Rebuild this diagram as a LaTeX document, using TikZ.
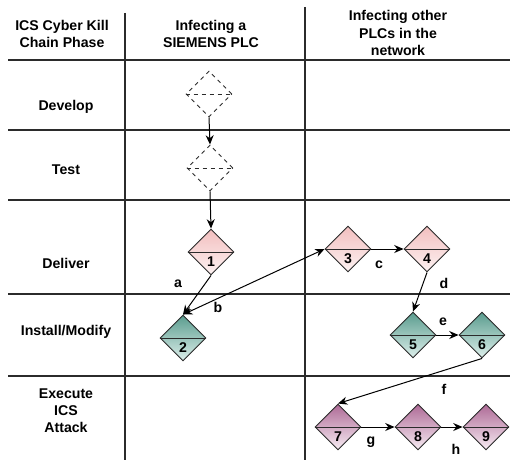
\documentclass[tikz,border=0pt]{standalone}
\usepackage{fontspec}
\setmainfont{Liberation Sans}
\usetikzlibrary{shapes.geometric,arrows.meta}

\definecolor{gridline}{HTML}{2B2B2B}
\definecolor{pinkTop}{HTML}{F2BFBF}
\definecolor{pinkBot}{HTML}{FDF2F2}
\definecolor{tealTop}{HTML}{5A9C8E}
\definecolor{tealBot}{HTML}{DDEFEB}
\definecolor{purpTop}{HTML}{AE6A96}
\definecolor{purpBot}{HTML}{F7ECF3}

\tikzset{
  txt/.style={font=\fontsize{10.6}{12.8}\selectfont\bfseries, align=center, inner sep=0pt},
  grid/.style={draw=gridline, line width=0.9pt},
  stage/.style={shape=diamond, aspect=1, inner sep=0pt, minimum size=34.5pt,
                draw=gridline, line width=0.7pt},
  planned/.style={stage, dashed},
  pinkstage/.style={stage, top color=pinkTop, bottom color=pinkBot},
  tealstage/.style={stage, top color=tealTop, bottom color=tealBot},
  purpstage/.style={stage, top color=purpTop, bottom color=purpBot},
  flow/.style={draw=black, line width=0.75pt, -{Stealth[length=7pt,width=6pt]}},
  lbl/.style={txt}
}

\newcommand{\stagemark}[2]{%
  \draw[draw=gridline, line width=0.7pt] (#1.west) -- (#1.east);
  \node[txt] (#1num) at ([yshift=-7.5pt]#1.center) {#2};
}

\begin{document}
\begin{tikzpicture}[x=0.75pt, y=-0.75pt]
\useasboundingbox (0,0) rectangle (510,460);

% table grid
\draw[grid] (8,60) -- (510,60);
\draw[grid] (8,130) -- (510,130);
\draw[grid] (8,200) -- (510,200);
\draw[grid] (8,294) -- (510,294);
\draw[grid] (8,376) -- (510,376);
\draw[grid] (125,13) -- (125,460);
\draw[grid] (305,7) -- (305,460);

% column headers
\node[txt] (h1) at (62,34) {ICS Cyber Kill\\Chain Phase};
\node[txt] (h2) at (211,34) {Infecting a\\SIEMENS PLC};
\node[txt] (h3) at (398,33) {Infecting other\\PLCs in the\\network};

% phase names
\node[txt] (r1) at (66,107) {Develop};
\node[txt] (r2) at (66,170) {Test};
\node[txt] (r3) at (66,263) {Deliver};
\node[txt] (r4) at (66,332) {Install/Modify};
\node[txt] (r5) at (66,411) {Execute\\ICS\\Attack};

% stages
\node[planned] (dev) at (209,94) {};
\draw[draw=gridline, line width=0.7pt, dashed] (dev.west) -- (dev.east);
\node[planned] (tst) at (210,168) {};
\draw[draw=gridline, line width=0.7pt, dashed] (tst.west) -- (tst.east);

\node[pinkstage] (s1) at (211,252) {};
\stagemark{s1}{1}
\node[tealstage] (s2) at (183,338) {};
\stagemark{s2}{2}
\node[pinkstage] (s3) at (348,249) {};
\stagemark{s3}{3}
\node[pinkstage] (s4) at (427,249) {};
\stagemark{s4}{4}
\node[tealstage] (s5) at (413,335) {};
\stagemark{s5}{5}
\node[tealstage] (s6) at (482,335) {};
\stagemark{s6}{6}
\node[purpstage] (s7) at (338,427) {};
\stagemark{s7}{7}
\node[purpstage] (s8) at (418,427) {};
\stagemark{s8}{8}
\node[purpstage] (s9) at (486,427) {};
\stagemark{s9}{9}

% connectors
\draw[flow] (dev.south) -- (tst.north);
\draw[flow] (tst.south) -- (s1.north);
\draw[flow] (s1.south) -- (s2.north);
\draw[flow, {Stealth[length=7pt,width=6pt]}-{Stealth[length=7pt,width=6pt]}] (s2.north) -- (s3.west);
\draw[flow] (s3.east) -- (s4.west);
\draw[flow] (s4.south) -- (s5.north);
\draw[flow] (s5.east) -- (s6.west);
\draw[flow] (s6.south) -- (s7.north);
\draw[flow] (s7.east) -- (s8.west);
\draw[flow] (s8.east) -- (s9.west);

% connector labels
\node[lbl] (la) at (178,284) {a};
\node[lbl] (lb) at (218,307) {b};
\node[lbl] (lc) at (379,265) {c};
\node[lbl] (ld) at (444,283) {d};
\node[lbl] (le) at (443,322) {e};
\node[lbl] (lf) at (444,389) {f};
\node[lbl] (lg) at (371,442) {g};
\node[lbl] (lh) at (456,449) {h};
\end{tikzpicture}
\end{document}
